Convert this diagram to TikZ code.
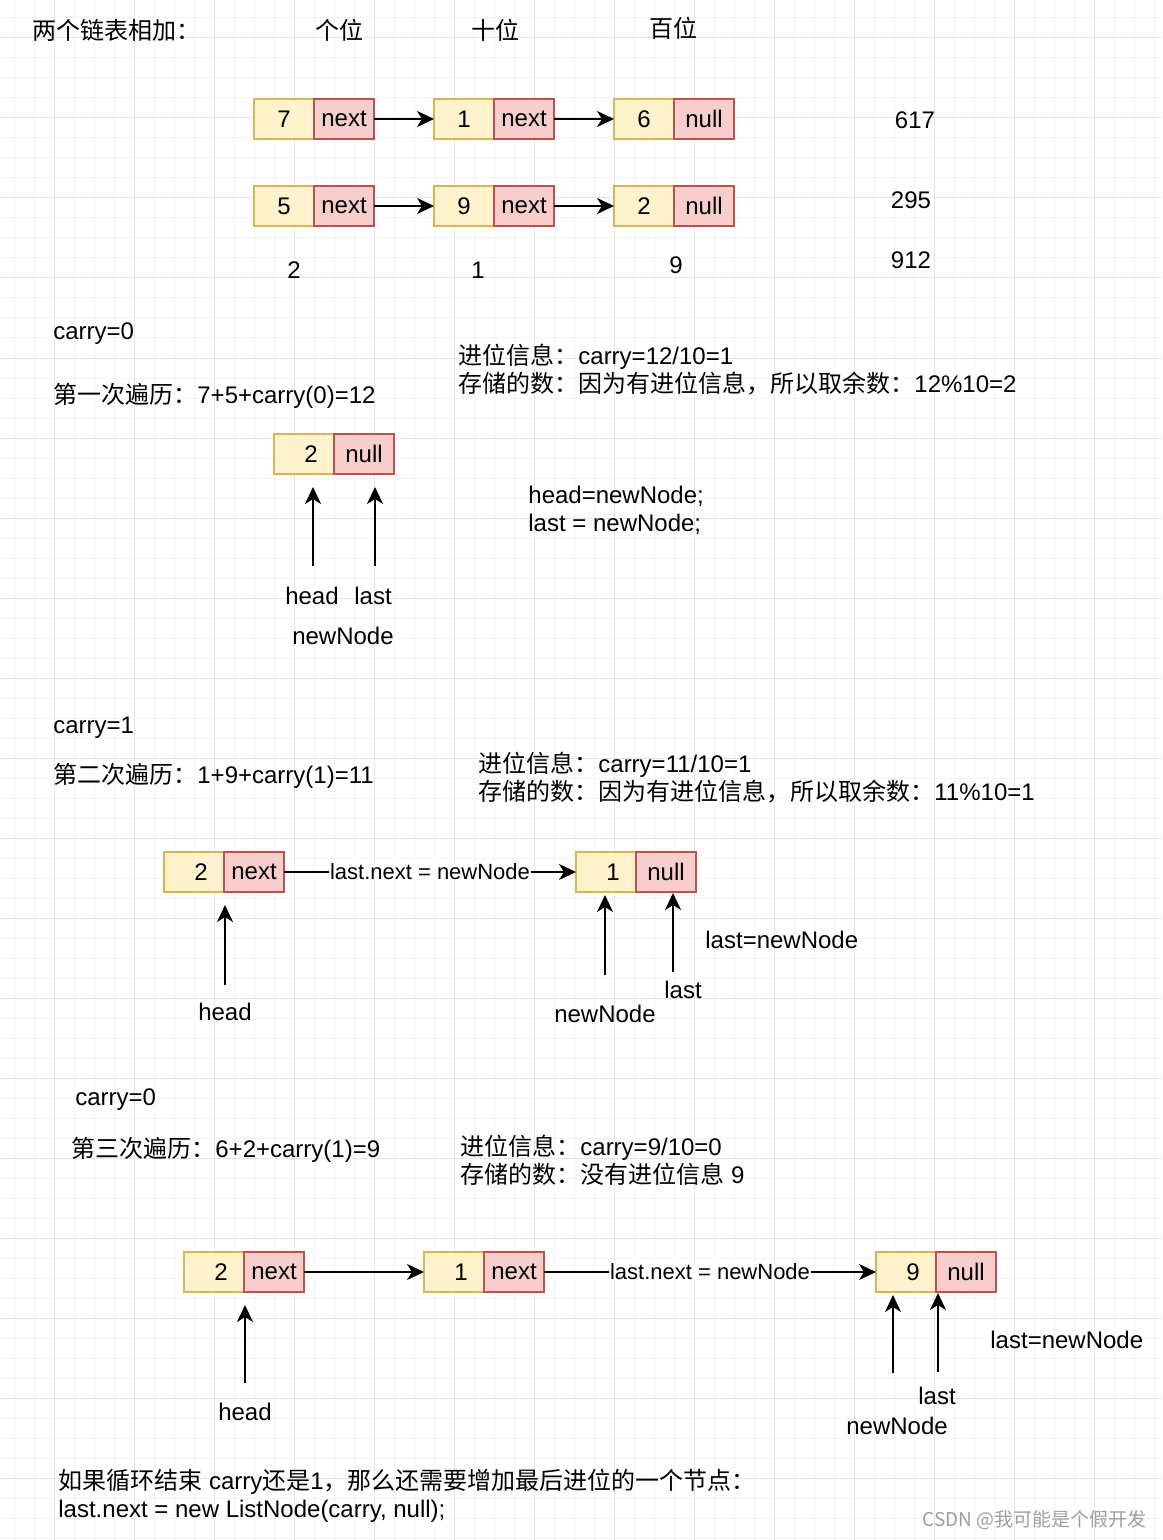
\documentclass[tikz,border=0pt]{standalone}
\usepackage{fontspec}
\setmainfont{Liberation Sans}
\newfontfamily\cjk{Noto Sans CJK SC}
\newcommand{\zh}[1]{{\cjk #1}}
\usetikzlibrary{arrows.meta,positioning}
\definecolor{valfill}{HTML}{FFF2CC}
\definecolor{valline}{HTML}{D6B656}
\definecolor{ptrfill}{HTML}{F8CECC}
\definecolor{ptrline}{HTML}{B85450}

\begin{document}
\begin{tikzpicture}[x=0.5pt,y=-0.5pt,
  every node/.style={font=\fontsize{12}{14}\selectfont, inner sep=0pt},
  valbox/.style={draw=valline, fill=valfill, line width=1pt, outer sep=0pt, minimum width=30pt, minimum height=20pt},
  ptrbox/.style={draw=ptrline, fill=ptrfill, line width=1pt, outer sep=0pt, minimum width=30pt, minimum height=20pt},
  padl/.style={execute at begin node={\hspace*{7pt}}},
  link/.style={line width=1pt, -{Stealth[length=8.5pt, width=8pt, inset=2.5pt]}},
  txt/.style={anchor=west, align=left},
  edgelabel/.style={fill=white, font=\fontsize{11}{12}\selectfont, inner sep=0.5pt}]
\useasboundingbox (0,0) rectangle (1162,1540);
\fill[white] (0,0) rectangle (1162,1540);
% background grid
\foreach \gx in {14,34,...,1154} \draw[gray!8, line width=0.5pt] (\gx,0) -- (\gx,1540);
\foreach \gy in {18,38,...,1538} \draw[gray!8, line width=0.5pt] (0,\gy) -- (1162,\gy);
\foreach \gx in {54,134,...,1094} \draw[gray!20, line width=0.5pt] (\gx,0) -- (\gx,1540);
\foreach \gy in {38,118,...,1478} \draw[gray!20, line width=0.5pt] (0,\gy) -- (1162,\gy);

% the two lists
\node[txt] (title) at (32,30) {\zh{两个链表相加：}};
\node (ones) at (339,30) {\zh{个位}};
\node (tens) at (495,30) {\zh{十位}};
\node (hundreds) at (673,28) {\zh{百位}};

\node[valbox] (a1) at (284,119) {7};
\node[ptrbox, right=0pt of a1] (a1p) {next};
\node[valbox] (a2) at (464,119) {1};
\node[ptrbox, right=0pt of a2] (a2p) {next};
\node[valbox] (a3) at (644,119) {6};
\node[ptrbox, right=0pt of a3] (a3p) {null};
\draw[link] (a1p) -- (a2);
\draw[link] (a2p) -- (a3);

\node[valbox] (b1) at (284,206) {5};
\node[ptrbox, right=0pt of b1] (b1p) {next};
\node[valbox] (b2) at (464,206) {9};
\node[ptrbox, right=0pt of b2] (b2p) {next};
\node[valbox] (b3) at (644,206) {2};
\node[ptrbox, right=0pt of b3] (b3p) {null};
\draw[link] (b1p) -- (b2);
\draw[link] (b2p) -- (b3);

\node (numa) at (915,120) {617};
\node (numb) at (911,200) {295};
\node (numc) at (911,260) {912};
\node (sum1) at (294,270) {2};
\node (sum2) at (478,270) {1};
\node (sum3) at (676,265) {9};

% first pass
\node[txt] (carry1) at (53,334) {carry=0};
\node[txt] (pass1) at (53,396) {\zh{第一次遍历：}7+5+carry(0)=12};
\node[txt] (info1) at (458,370) {\zh{进位信息：}carry=12/10=1\\\zh{存储的数：因为有进位信息，所以取余数：}12\%10=2};
\node[valbox, padl] (c1) at (304,454) {2};
\node[ptrbox, right=0pt of c1] (c1p) {null};
\coordinate (c1s) at (313,566); \coordinate (c1t) at (313,487);
\coordinate (c1ls) at (375,566); \coordinate (c1lt) at (375,487);
\draw[link] (c1s) -- (c1t);
\draw[link] (c1ls) -- (c1lt);
\node (head1) at (312,596) {head};
\node (last1) at (373,596) {last};
\node (new1) at (343,636) {newNode};
\node[txt] (code1) at (528,510) {head=newNode;\\last = newNode;};

% second pass
\node[txt] (carry2) at (53,728) {carry=1};
\node[txt] (pass2) at (53,776) {\zh{第二次遍历：}1+9+carry(1)=11};
\node[txt] (info2) at (478,778) {\zh{进位信息：}carry=11/10=1\\\zh{存储的数：因为有进位信息，所以取余数：}11\%10=1};
\node[valbox, padl] (d1) at (194,872) {2};
\node[ptrbox, right=0pt of d1] (d1p) {next};
\node[valbox, padl] (d2) at (606,872) {1};
\node[ptrbox, right=0pt of d2] (d2p) {null};
\draw[link] (d1p) -- node[edgelabel] {last.next = newNode} (d2);
\coordinate (d1s) at (225,985); \coordinate (d1t) at (225,905);
\coordinate (d2s) at (605,975); \coordinate (d2t) at (605,895);
\coordinate (d2ls) at (673,972); \coordinate (d2lt) at (673,893);
\draw[link] (d1s) -- (d1t);
\draw[link] (d2s) -- (d2t);
\draw[link] (d2ls) -- (d2lt);
\node (head2) at (225,1012) {head};
\node[txt] (move2) at (705,940) {last=newNode};
\node (last2) at (683,990) {last};
\node (new2) at (605,1014) {newNode};

% third pass
\node[txt] (carry3) at (75,1100) {carry=0};
\node[txt] (pass3) at (71,1150) {\zh{第三次遍历：}6+2+carry(1)=9};
\node[txt] (info3) at (460,1160) {\zh{进位信息：}carry=9/10=0\\\zh{存储的数：没有进位信息} 9};
\node[valbox, padl] (e1) at (214,1272) {2};
\node[ptrbox, right=0pt of e1] (e1p) {next};
\node[valbox, padl] (e2) at (454,1272) {1};
\node[ptrbox, right=0pt of e2] (e2p) {next};
\node[valbox, padl] (e3) at (906,1272) {9};
\node[ptrbox, right=0pt of e3] (e3p) {null};
\draw[link] (e1p) -- (e2);
\draw[link] (e2p) -- node[edgelabel] {last.next = newNode} (e3);
\coordinate (e1s) at (245,1383); \coordinate (e1t) at (245,1305);
\coordinate (e3s) at (893,1373); \coordinate (e3t) at (893,1295);
\coordinate (e3ls) at (938,1372); \coordinate (e3lt) at (938,1293);
\draw[link] (e1s) -- (e1t);
\draw[link] (e3s) -- (e3t);
\draw[link] (e3ls) -- (e3lt);
\node (head3) at (245,1412) {head};
\node[txt] (move3) at (990,1340) {last=newNode};
\node (last3) at (937,1396) {last};
\node (new3) at (897,1426) {newNode};

% closing note
\node[txt] (note) at (58,1496) {\zh{如果循环结束} carry\zh{还是}1\zh{，那么还需要增加最后进位的一个节点：}\\last.next = new ListNode(carry, null);};
\node[anchor=east, text=gray!75, font=\cjk\fontsize{9.5}{11}\selectfont] (mark) at (1147,1520) {CSDN @我可能是个假开发};
\end{tikzpicture}
\end{document}
